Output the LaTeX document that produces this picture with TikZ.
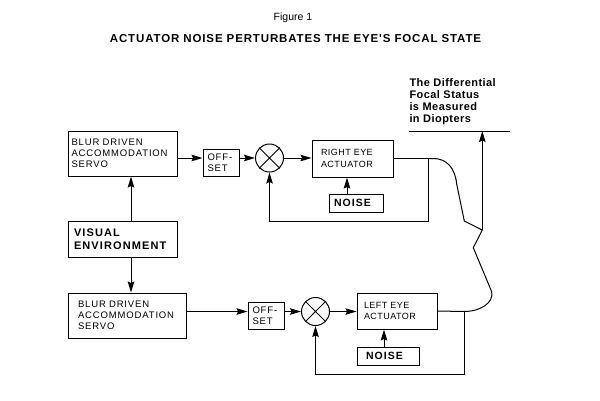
\documentclass[tikz,border=0pt]{standalone}
\usepackage{fontspec}
\setmainfont{Liberation Sans}
\newfontfamily\fA[LetterSpace=9]{Liberation Sans}
\newfontfamily\fB[LetterSpace=10]{Liberation Sans}
\newfontfamily\fC[LetterSpace=4]{Liberation Sans}
\newfontfamily\fR[LetterSpace=5]{Liberation Sans}
\newfontfamily\fT[LetterSpace=7.5]{Liberation Sans}
\usetikzlibrary{arrows.meta,calc}
\begin{document}
\begin{tikzpicture}[x=1pt,y=-1pt,line width=1pt,
  box/.style={draw,rectangle,inner ysep=0pt,align=left},
  small/.style={font=\fA\fontsize{9.5}{11}\selectfont},
  smallr/.style={font=\fR\fontsize{9}{11.5}\selectfont},
  big/.style={font=\fB\bfseries\fontsize{11}{12.7}\selectfont},
  noisef/.style={font=\fB\bfseries\fontsize{10.5}{12}\selectfont},
  sumnode/.style={draw,circle,minimum size=28pt,inner sep=0pt},
  arr/.style={-{Stealth[length=11pt,width=6.5pt,inset=1.5pt]}}]
\useasboundingbox (0,0) rectangle (600,400);
\fill[white] (0,0) rectangle (600,400);

% titles
\node[font=\fontsize{10.5}{12}\selectfont, anchor=base] (fig) at (293,20.7) {Figure 1};
\node[font=\fT\bfseries\fontsize{11.5}{13}\selectfont, anchor=base] (title) at (295.5,42.3) {ACTUATOR NOISE PERTURBATES THE EYE'S FOCAL STATE};

% boxes
\node[box,small,minimum width=109pt,minimum height=45pt,inner xsep=3.5pt,text width=102pt] (s1) at (122.5,153.5) {BLUR DRIVEN\\ACCOMMODATION\\SERVO};
\node[box,big,minimum width=109pt,minimum height=36pt,inner xsep=6pt,text width=97pt] (v) at (122.5,239) {VISUAL\\ENVIRONMENT};
\node[box,small,minimum width=118pt,minimum height=45pt,inner xsep=10pt,text width=98pt] (s2) at (127,315.5) {BLUR DRIVEN\\ACCOMMODATION\\SERVO};
\node[box,small,minimum width=36pt,minimum height=27pt,inner xsep=4.5pt,text width=27pt] (o1) at (221,162.5) {OFF-\\SET};
\node[box,small,minimum width=36pt,minimum height=27pt,inner xsep=4.5pt,text width=27pt] (o2) at (266,315.5) {OFF-\\SET};
\node[box,smallr,minimum width=81pt,minimum height=37pt,inner xsep=9pt,text width=63pt] (r1) at (352.5,158.5) {RIGHT EYE\\ACTUATOR};
\node[box,smallr,minimum width=80pt,minimum height=36pt,inner xsep=7pt,text width=66pt] (l1) at (397,311) {LEFT EYE\\ACTUATOR};
\node[box,noisef,minimum width=54pt,minimum height=18pt,inner xsep=5pt,text width=44pt] (n1) at (356,203) {NOISE};
\node[box,noisef,minimum width=62pt,minimum height=18pt,inner xsep=9pt,text width=44pt] (n2) at (388,356) {NOISE};

% summing junctions
\node[sumnode] (c1) at (269.5,158) {};
\node[sumnode] (c2) at (315.5,311.5) {};
\draw (c1.north east) -- (c1.south west) (c1.north west) -- (c1.south east);
\draw (c2.north east) -- (c2.south west) (c2.north west) -- (c2.south east);

% measured text
\node[font=\fC\bfseries\fontsize{11}{11.7}\selectfont, anchor=north west, inner sep=0pt, align=left] (meas) at (409,78.5) {The Differential\\Focal Status\\is Measured\\in Diopters};
\coordinate (ml1) at (409,131);
\coordinate (ml2) at (510,131);
\draw (ml1) -- (ml2);

% helper coordinates
\coordinate (a1) at (347,0);
\coordinate (a2) at (131,0);
\coordinate (a3) at (384,0);
\coordinate (j1) at (428,158.5);
\coordinate (k1) at (428,221);
\coordinate (j2) at (464,311.5);
\coordinate (k2) at (464,374);
\coordinate (m) at (482.3,230);

% top chain
\draw[arr] (v.north -| a2) -- (s1.south -| a2);
\draw[arr] (s1.east |- c1) -- (o1.west |- c1);
\draw[arr] (o1.east |- c1) -- (c1.west);
\draw[arr] (c1.east) -- (r1.west |- c1);
\draw[arr] (n1.north -| a1) -- (r1.south -| a1);
\draw (r1.east) -- (j1);
\draw[arr] (j1) -- (k1) -| (c1.south);

% bottom chain
\draw[arr] (v.south -| a2) -- (s2.north -| a2);
\draw[arr] (s2.east |- c2) -- (o2.west |- c2);
\draw[arr] (o2.east |- c2) -- (c2.west);
\draw[arr] (c2.east) -- (l1.west |- c2);
\draw[arr] (n2.north -| a3) -- (l1.south -| a3);
\draw (l1.east) -- (j2);
\draw[arr] (j2) -- (k2) -| (c2.south);

% differential curves
\draw (j1) -- (433,158.5) .. controls (447,158.5) and (455,168) .. (456.7,184) -- (464.3,221) -- (m);
\draw (m) -- (473.3,247.7) -- (491.7,291.7) .. controls (494,303) and (480,311.5) .. (j2);
\draw[arr] (m) -- (m |- ml1);
\end{tikzpicture}
\end{document}
